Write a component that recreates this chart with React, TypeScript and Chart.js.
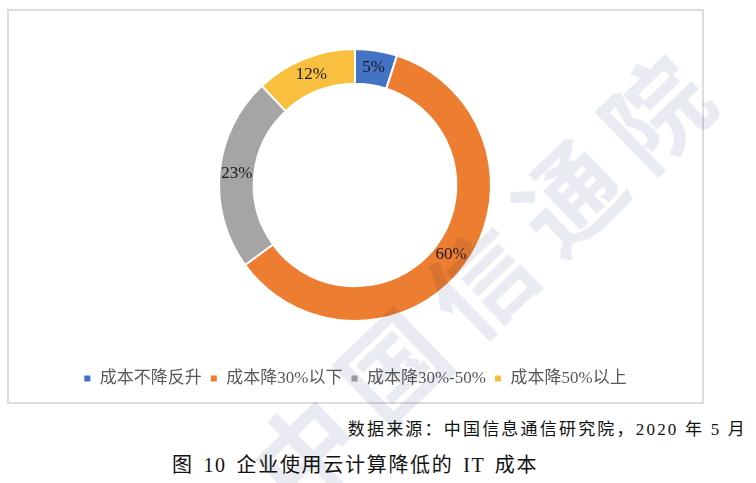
import React, { useRef, useEffect } from 'react';
import { Chart, registerables } from 'chart.js';

Chart.register(...registerables);

// chart data
const categories = ['成本不降反升', '成本降30%以下', '成本降30%-50%', '成本降50%以上'];
const shares = [5, 60, 23, 12];
const sliceColors = ['#4472C4', '#ED7D31', '#A5A5A5', '#F9C040'];

const serif = '"Liberation Serif", "Noto Sans CJK SC", serif';

// draws the percent labels in the middle of each ring segment
const percentLabels = {
  id: 'percentLabels',
  afterDatasetsDraw(chart: Chart) {
    const { ctx } = chart;
    const meta = chart.getDatasetMeta(0);
    ctx.save();
    ctx.font = `17px ${serif}`;
    ctx.fillStyle = '#1a1a1a';
    ctx.textAlign = 'center';
    ctx.textBaseline = 'middle';
    meta.data.forEach((arc: any, i: number) => {
      const { x, y } = arc.getCenterPoint();
      ctx.fillText(`${shares[i]}%`, x, y);
    });
    ctx.restore();
  },
};

const DoughnutChart: React.FC = () => {
  const chartRef = useRef<HTMLCanvasElement>(null);
  const chartInstance = useRef<Chart | null>(null);

  useEffect(() => {
    if (!chartRef.current) return;
    if (chartInstance.current) chartInstance.current.destroy();
    const ctx = chartRef.current.getContext('2d');
    if (!ctx) return;

    chartInstance.current = new Chart(ctx, {
      type: 'doughnut',
      data: {
        labels: categories,
        datasets: [
          {
            data: shares,
            backgroundColor: sliceColors,
            borderColor: '#ffffff',
            borderWidth: 2,
          },
        ],
      },
      options: {
        responsive: true,
        maintainAspectRatio: false,
        animation: false,
        radius: 136,
        cutout: '74.5%',
        layout: { padding: { top: 0, bottom: 2, left: 0, right: 0 } },
        plugins: {
          legend: {
            position: 'bottom',
            labels: {
              boxWidth: 8,
              boxHeight: 8,
              padding: 8,
              color: '#595959',
              font: { size: 17, family: serif },
            },
          },
          tooltip: { enabled: false },
        },
      } as any,
      plugins: [percentLabels],
    });

    return () => {
      if (chartInstance.current) {
        chartInstance.current.destroy();
        chartInstance.current = null;
      }
    };
  }, []);

  return (
    <div style={{ position: 'absolute', left: 9, top: 8, width: 692, height: 391 }}>
      <canvas ref={chartRef}></canvas>
    </div>
  );
};

const App: React.FC = () => {
  return (
    <div
      style={{
        position: 'absolute',
        left: 0,
        top: 0,
        width: 756,
        height: 483,
        background: '#ffffff',
        overflow: 'hidden',
        fontFamily: serif,
      }}
    >
      <div
        style={{
          position: 'absolute',
          left: 7,
          top: 9,
          width: 697,
          height: 395,
          boxSizing: 'border-box',
          border: '2px solid #dcdcdc',
        }}
      />
      <DoughnutChart />
      <div
        style={{
          position: 'absolute',
          right: 9,
          top: 421,
          fontSize: 17,
          lineHeight: '17px',
          letterSpacing: 2.2,
          color: '#111',
          whiteSpace: 'nowrap',
        }}
      >
        数据来源：中国信息通信研究院，2020 年 5 月
      </div>
      <div
        style={{
          position: 'absolute',
          left: 172,
          top: 455,
          fontSize: 20,
          lineHeight: '20px',
          letterSpacing: 1.7,
          wordSpacing: 3,
          color: '#111',
          whiteSpace: 'nowrap',
        }}
      >
        图 10 企业使用云计算降低的 IT 成本
      </div>
      <div
        style={{
          position: 'absolute',
          left: 485,
          top: 272,
          transform: 'translate(-50%, -50%) rotate(-44deg)',
          fontSize: 102,
          lineHeight: '102px',
          fontWeight: 700,
          fontFamily: '"Noto Sans CJK SC", sans-serif',
          color: '#e9ebf3',
          letterSpacing: 20,
          whiteSpace: 'nowrap',
          mixBlendMode: 'multiply',
          pointerEvents: 'none',
        }}
      >
        中国信通院
      </div>
    </div>
  );
};

export default App;
